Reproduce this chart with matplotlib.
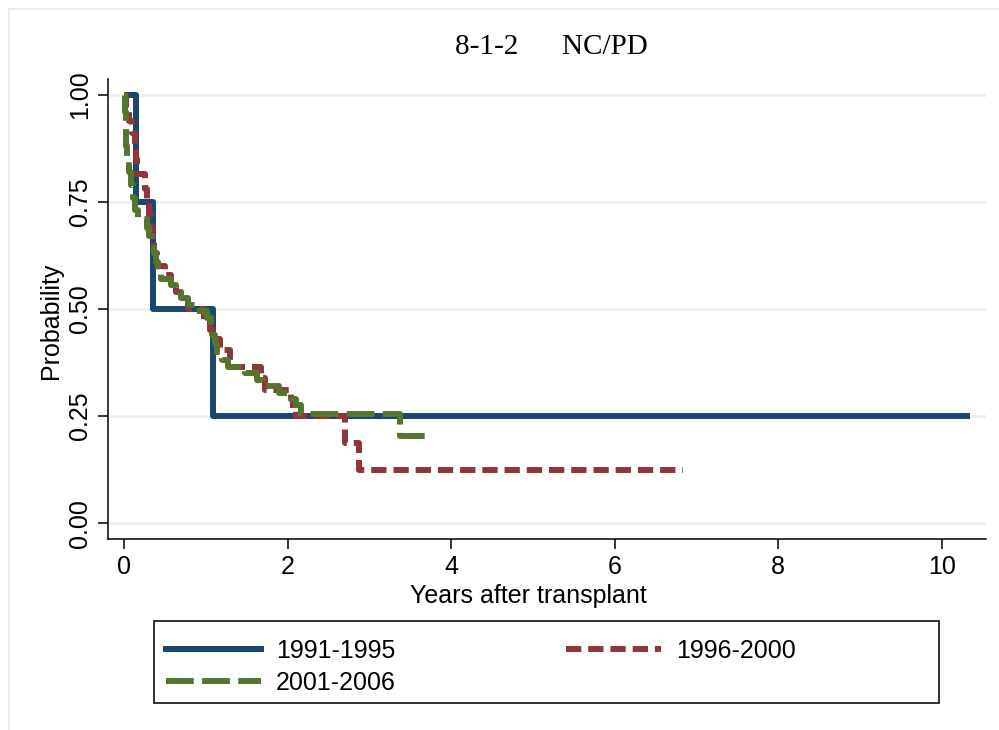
import matplotlib
matplotlib.use("Agg")
import matplotlib.pyplot as plt
from matplotlib.patches import Rectangle
from matplotlib.lines import Line2D

# ---- data ----
title_text = "8-1-2\u2003\u2002NC/PD"
x_label = "Years after transplant"
y_label = "Probability"
x_ticks = [0, 2, 4, 6, 8, 10]
y_ticks = [0.00, 0.25, 0.50, 0.75, 1.00]

series_names = ["1991-1995", "1996-2000", "2001-2006"]

t_9195 = [0.00, 0.15, 0.35, 1.09, 10.34]
s_9195 = [1.00, 0.75, 0.50, 0.25, 0.25]

t_9600 = [0.00, 0.03, 0.06, 0.10, 0.13, 0.15, 0.16, 0.26, 0.28, 0.30, 0.33, 0.35,
          0.37, 0.40, 0.50, 0.58, 0.64, 0.70, 0.78, 0.98, 1.05, 1.12, 1.17, 1.30,
          1.67, 1.72, 2.04, 2.07, 2.10, 2.70, 2.87, 6.83]
s_9600 = [1.00, 0.97, 0.94, 0.91, 0.88, 0.85, 0.815, 0.78, 0.75, 0.72, 0.69, 0.66,
          0.63, 0.60, 0.58, 0.56, 0.54, 0.52, 0.50, 0.475, 0.45, 0.43, 0.405, 0.365,
          0.34, 0.31, 0.29, 0.27, 0.25, 0.1875, 0.125, 0.125]

t_0106 = [0.00, 0.01, 0.02, 0.03, 0.04, 0.06, 0.08, 0.11, 0.14, 0.17, 0.28, 0.31,
          0.34, 0.37, 0.39, 0.42, 0.45, 0.58, 0.64, 0.70, 0.78, 0.88, 1.02, 1.06,
          1.08, 1.11, 1.14, 1.20, 1.27, 1.48, 1.62, 1.70, 1.90, 2.04, 2.10, 2.17,
          3.38, 3.77]
s_0106 = [1.00, 0.96, 0.92, 0.88, 0.85, 0.82, 0.79, 0.76, 0.73, 0.71, 0.69, 0.67,
          0.65, 0.63, 0.61, 0.59, 0.57, 0.555, 0.54, 0.525, 0.51, 0.495, 0.48, 0.46,
          0.44, 0.42, 0.40, 0.38, 0.365, 0.35, 0.335, 0.32, 0.305, 0.29, 0.275, 0.255,
          0.204, 0.204]

# ---- style ----
navy = "#1a476f"
maroon = "#90353b"
green = "#55752f"
grid_c = "#eaf2f3"
plt.rcParams["lines.scale_dashes"] = False
sans = ["Liberation Sans", "DejaVu Sans"]
serif = ["Liberation Serif", "DejaVu Serif"]
fs = 18

W, H = 999, 730
fig = plt.figure(figsize=(W / 100, H / 100), dpi=100)
fig.patch.set_facecolor("white")

def fx(px):
    return px / W

def fy(py):
    return 1 - py / H

# outer light frame
fig.add_artist(Rectangle((fx(9), fy(1000)), 2.0, fy(9) - fy(1000),
                         transform=fig.transFigure, fill=False,
                         edgecolor="#e4eaee", linewidth=1.2))

ax = fig.add_axes([fx(108), fy(539), fx(986) - fx(108), fy(79) - fy(539)])
ax.set_xlim(-0.196, 10.54)
ax.set_ylim(-0.037, 1.037)

lw = 4.3
l1, = ax.step(t_9195, s_9195, where="post", color=navy, lw=lw,
              solid_joinstyle="round", solid_capstyle="butt", zorder=3)
l2, = ax.step(t_9600, s_9600, where="post", color=maroon, lw=lw, zorder=4)
l2.set_dashes([11, 5])
l3, = ax.step(t_0106, s_0106, where="post", color=green, lw=lw, zorder=5)
l3.set_dashes([20, 6])

for y in y_ticks:
    ax.axhline(y, color=grid_c, lw=2.2, zorder=1)

for s in ["top", "right"]:
    ax.spines[s].set_visible(False)
for s in ["left", "bottom"]:
    ax.spines[s].set_linewidth(1.1)
    ax.spines[s].set_color("black")

ax.set_xticks(x_ticks)
ax.set_xticklabels([str(v) for v in x_ticks], fontfamily=sans, fontsize=fs)
ax.set_yticks(y_ticks)
ax.set_yticklabels([f"{v:.2f}" for v in y_ticks], fontfamily=sans, fontsize=fs,
                   rotation=90, va="center")
ax.tick_params(direction="out", length=7.5, width=1.1, pad=4)

ax.set_xlabel(x_label, fontfamily=sans, fontsize=fs)
ax.xaxis.set_label_coords(0.479, -0.097)
ax.set_ylabel(y_label, fontfamily=sans, fontsize=fs)
ax.yaxis.set_label_coords(-0.051, 0.474)

fig.text(fx(551), fy(47), title_text, fontfamily=serif, fontsize=21,
         ha="center", va="center")

# legend
fig.add_artist(Rectangle((fx(154), fy(703)), fx(939) - fx(154), fy(621) - fy(703),
                         transform=fig.transFigure, fill=False,
                         edgecolor="#222222", linewidth=1.3))
h1 = Line2D([], [], color=navy, lw=lw)
h2 = Line2D([], [], color=maroon, lw=lw, dashes=[11, 5])
h3 = Line2D([], [], color=green, lw=lw, dashes=[20, 6])
leg = fig.legend([h1, h3, h2], [series_names[0], series_names[2], series_names[1]],
                 ncol=2, loc="upper left", bbox_to_anchor=(fx(166), fy(639)),
                 frameon=False, prop={"family": sans, "size": fs},
                 handlelength=3.8, handletextpad=0.6, columnspacing=6.8,
                 labelspacing=0.3, borderpad=0, borderaxespad=0)

fig.savefig("out.png", dpi=100)
